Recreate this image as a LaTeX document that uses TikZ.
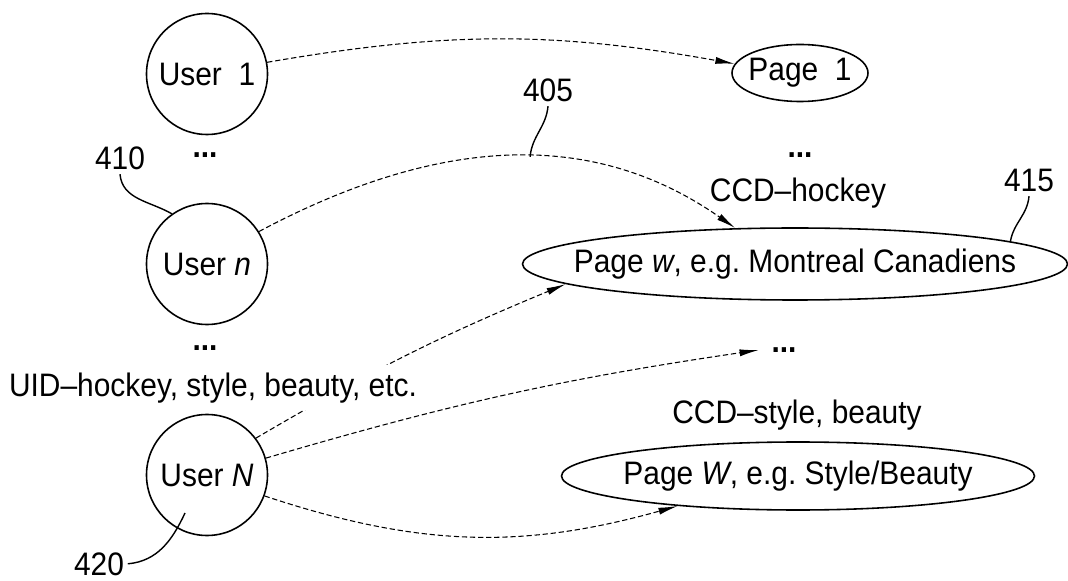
\documentclass[tikz,border=0pt]{standalone}
\usepackage{fontspec}
\setmainfont{Liberation Sans}[FakeStretch=0.92]
\usepackage{tikz}
\usetikzlibrary{shapes.geometric, arrows.meta, calc}

\begin{document}
\begin{tikzpicture}[
        font=\fontsize{18.5}{22}\selectfont,
        user/.style={draw, circle, line width=0.9pt, minimum size=2.42cm, inner sep=0pt},
        pagebox/.style={draw, ellipse, line width=0.9pt, inner sep=0pt},
        link/.style={-{Latex[length=11pt,width=4pt]}, line width=0.6pt, dash pattern=on 3pt off 1.6pt},
        refline/.style={line width=0.8pt},
        refnum/.style={anchor=base, inner sep=2pt},
        dots/.style={inner sep=0pt, font=\fontsize{18.5}{22}\selectfont\bfseries}
    ]
    \useasboundingbox (0,0) rectangle (21.36,11.6);

    \node[user] (u1) at (4.14,10.12) {User\ \ 1};
    \node[user] (un) at (4.14,6.32) {User \textit{n}};
    \node[user] (uN) at (4.14,2.10) {User \textit{N}};
    \node[dots] (dU1) at (4.10,8.50) {...};
    \node[dots] (dU2) at (4.10,4.64) {...};

    \node[pagebox, minimum width=2.72cm, minimum height=1.14cm, label=center:{Page\ \ 1}] (pg1) at (16.0,10.14) {};
    \node[pagebox, minimum width=10.9cm, minimum height=1.44cm, label=center:{Page \textit{w}, e.g.\ Montreal Canadiens}] (pgw) at (15.9,6.32) {};
    \node[pagebox, minimum width=9.46cm, minimum height=1.36cm, label=center:{Page \textit{W}, e.g.\ Style/Beauty}] (pgW) at (15.96,2.08) {};
    \node[dots] (dP1) at (16.0,8.50) {...};
    \node[dots, inner xsep=7pt] (dP2) at (15.68,4.60) {...};
    \node[anchor=base] (ccdh) at (15.96,7.56) {CCD--hockey};
    \node[anchor=base] (ccds) at (15.94,3.14) {CCD--style, beauty};

    \draw[link] (u1.11) to[bend left=10] (pg1.172);
    \draw[link] (un.32) to[out=28,in=145] coordinate[pos=0.56] (c405) (pgw.149);
    \draw[link] (uN.37) to[bend left=4] (pgw.185);
    \draw[link] (uN.16) to[bend left=4] (dP2.west);
    \draw[link] (uN.-20) to[bend right=17] (pgW.194);

    \node[anchor=base, fill=white, inner sep=4pt] (uid) at (4.26,3.68) {UID--hockey, style, beauty, etc.};

    \node[refnum] (l405) at (10.96,9.56) {405};
    \node[refnum] (l410) at (2.40,8.20) {410};
    \node[refnum] (l415) at (20.58,7.76) {415};
    \node[refnum] (l420) at (1.98,0.10) {420};
    \coordinate (e420) at ($(uN.center)+(-0.44,-0.76)$);

    \draw[refline] (l405.south) to[out=-95,in=85] (c405);
    \draw[refline] (l410.south) to[out=-85,in=150] (un.125);
    \draw[refline] (l415.south) to[out=-95,in=80] (pgw.6);
    \draw[refline] (l420.east) to[out=5,in=-115] (e420);
\end{tikzpicture}
\end{document}
